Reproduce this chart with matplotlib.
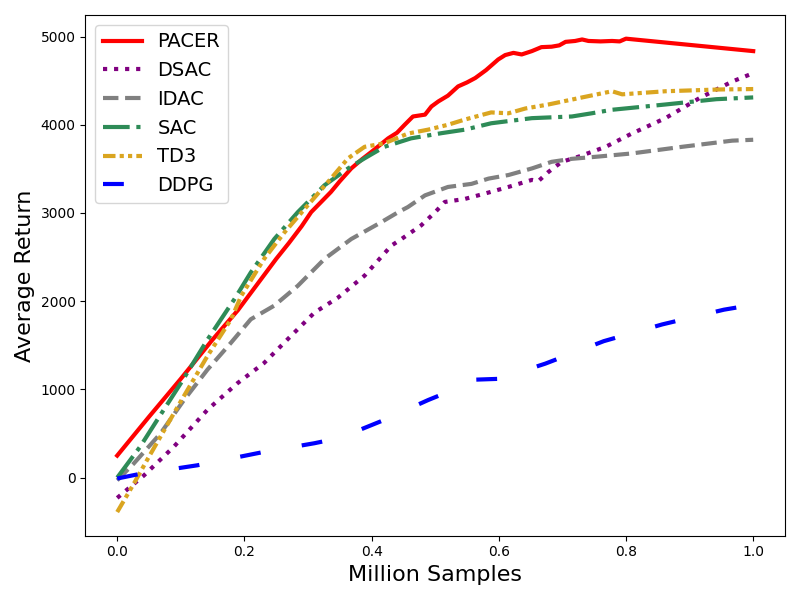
import matplotlib
matplotlib.use("Agg")
import matplotlib.pyplot as plt

pacer_x = [0, 0.05, 0.1, 0.15, 0.19, 0.22, 0.25, 0.27, 0.29, 0.305, 0.32, 0.336, 0.35, 0.368, 0.385, 0.4,
           0.426, 0.44, 0.452, 0.465, 0.484, 0.494, 0.505, 0.52, 0.536, 0.55, 0.563, 0.58, 0.599, 0.61, 0.623,
           0.636, 0.652, 0.667, 0.683, 0.695, 0.705, 0.72, 0.731, 0.741, 0.76, 0.778, 0.79, 0.8, 1.0]
pacer_y = [250, 690, 1120, 1565, 1900, 2190, 2480, 2660, 2850, 3010, 3120, 3238, 3360, 3505, 3610, 3694,
           3846, 3910, 4000, 4094, 4115, 4207, 4265, 4330, 4435, 4480, 4530, 4620, 4740, 4790, 4815,
           4797, 4835, 4880, 4885, 4900, 4940, 4950, 4967, 4950, 4945, 4950, 4945, 4976, 4835]

dsac_x = [0, 0.042, 0.089, 0.142, 0.189, 0.231, 0.273, 0.31, 0.347, 0.389, 0.431, 0.447, 0.478, 0.5, 0.515,
          0.547, 0.578, 0.615, 0.652, 0.662, 0.678, 0.699, 0.726, 0.768, 0.809, 0.862, 0.915, 0.967, 1.0]
dsac_y = [-230, 25, 350, 770, 1070, 1300, 1605, 1870, 2040, 2290, 2630, 2705, 2860, 3010, 3125,
          3160, 3220, 3295, 3375, 3360, 3465, 3580, 3640, 3750, 3900, 4075, 4300, 4490, 4585]

idac_x = [0, 0.026, 0.068, 0.105, 0.142, 0.179, 0.21, 0.247, 0.284, 0.326, 0.368, 0.415, 0.442, 0.457, 0.484,
          0.52, 0.557, 0.584, 0.615, 0.652, 0.683, 0.715, 0.757, 0.809, 0.888, 0.967, 1.0]
idac_y = [-30, 160, 500, 880, 1225, 1530, 1795, 1950, 2175, 2480, 2705, 2895, 3010, 3067, 3200,
          3295, 3330, 3390, 3430, 3505, 3580, 3614, 3640, 3675, 3750, 3820, 3830]

sac_x = [0, 0.036, 0.063, 0.1, 0.142, 0.184, 0.21, 0.247, 0.284, 0.326, 0.363, 0.389, 0.42, 0.462, 0.51,
         0.547, 0.588, 0.652, 0.715, 0.746, 0.778, 0.862, 0.942, 1.0]
sac_y = [0, 350, 655, 1070, 1565, 2020, 2325, 2705, 3010, 3315, 3505, 3620, 3750, 3846, 3905,
         3945, 4017, 4075, 4094, 4130, 4170, 4230, 4290, 4310]

td3_x = [0, 0.026, 0.047, 0.074, 0.1, 0.142, 0.179, 0.195, 0.231, 0.263, 0.3, 0.336, 0.363, 0.389, 0.42,
         0.457, 0.489, 0.52, 0.547, 0.588, 0.615, 0.642, 0.678, 0.731, 0.778, 0.794, 0.862, 0.946, 1.0]
td3_y = [-390, -70, 200, 540, 865, 1380, 1795, 2060, 2480, 2780, 3090, 3390, 3620, 3750, 3790,
         3900, 3945, 4000, 4060, 4140, 4130, 4185, 4230, 4310, 4380, 4345, 4380, 4400, 4405]

ddpg_x = [0, 0.034, 0.126, 0.226, 0.31, 0.35, 0.415, 0.489, 0.505, 0.56, 0.6, 0.673, 0.765, 0.857, 0.954, 1.0]
ddpg_y = [-10, 40, 140, 285, 390, 450, 640, 880, 927, 1110, 1120, 1292, 1547, 1737, 1904, 1960]

fig, ax = plt.subplots(figsize=(8, 6), dpi=100)
lw = 3
ax.plot(pacer_x, pacer_y, color="red", linestyle="-", lw=lw, label="PACER")
ax.plot(dsac_x, dsac_y, color="purple", linestyle=":", lw=lw, label="DSAC")
ax.plot(idac_x, idac_y, color="gray", linestyle="--", lw=lw, label="IDAC")
ax.plot(sac_x, sac_y, color="seagreen", linestyle="-.", lw=lw, label="SAC")
ax.plot(td3_x, td3_y, color="goldenrod", linestyle=(0, (3, 1, 1, 1, 1, 1)), lw=lw, label="TD3")
ax.plot(ddpg_x, ddpg_y, color="blue", linestyle=(0, (5, 10)), lw=lw, label="DDPG")

ax.set_xlabel("Million Samples", fontsize=16)
ax.set_ylabel("Average Return", fontsize=16)
ax.legend(loc="upper left", fontsize=14)
fig.tight_layout()
fig.savefig("out.png")
